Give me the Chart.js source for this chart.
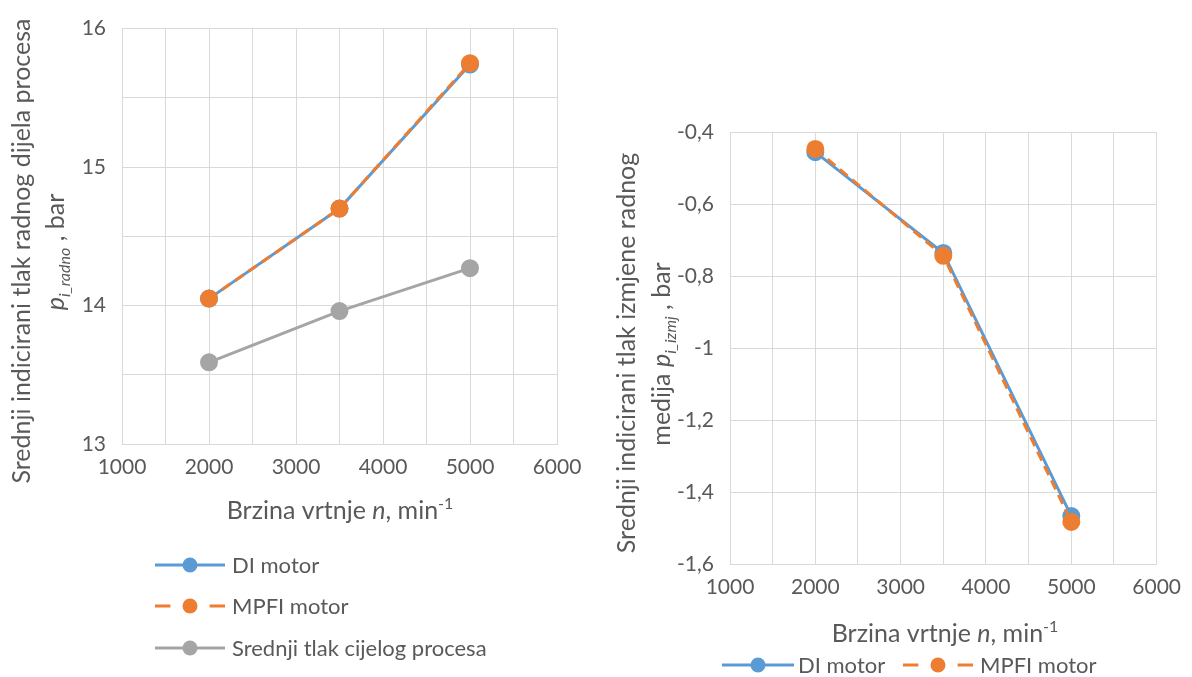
<!DOCTYPE html>
<html>
<head>
<meta charset="utf-8">
<script src="https://cdn.jsdelivr.net/npm/chart.js@4.4.0/dist/chart.umd.min.js"></script>
<style>
body { margin: 0; background: #fff; }
.wrap { position: absolute; top: 0; height: 677px; }
</style>
</head>
<body>
<div class="wrap" style="left:0;width:600px"><canvas id="lijevo"></canvas></div>
<div class="wrap" style="left:600px;width:592px"><canvas id="desno"></canvas></div>
<script>
// brzina vrtnje, min-1
var speeds = [2000, 3500, 5000];
// srednji indicirani tlak radnog dijela procesa, bar
var radnoDI = [14.05, 14.70, 15.74];
var radnoMPFI = [14.05, 14.70, 15.75];
var radnoCijeli = [13.59, 13.96, 14.27];
// srednji indicirani tlak izmjene radnog medija, bar
var izmjDI = [-0.456, -0.736, -1.467];
var izmjMPFI = [-0.447, -0.744, -1.483];

var FONT = 'Lato';
var TXT = '#595959';
var GRID = '#d9d9d9';
var BLUE = '#5B9BD5', ORANGE = '#ED7D31', GREY = '#A5A5A5';

function pts(ys) {
    return speeds.map(function (x, i) { return { x: x, y: ys[i] }; });
}

function ds(label, ys, color, dash, order) {
    return {
        label: label,
        data: pts(ys),
        showLine: true,
        borderColor: color,
        backgroundColor: color,
        pointBackgroundColor: color,
        pointBorderColor: color,
        pointRadius: 7.5,
        borderWidth: 3,
        borderDash: dash || [],
        order: order
    };
}

function fontFor(p, size) {
    var s = (p.sub || p.sup) ? Math.round(size * 0.65) : size;
    return (p.it ? 'italic ' : '') + s + 'px ' + FONT;
}

// draws a line of text made of parts (italic / sub / sup), centred on x,y
function drawRich(ctx, parts, x, y, size, rotate) {
    ctx.save();
    ctx.translate(x, y);
    if (rotate) ctx.rotate(-Math.PI / 2);
    ctx.fillStyle = TXT;
    ctx.textBaseline = 'alphabetic';
    ctx.textAlign = 'left';
    var total = 0;
    parts.forEach(function (p) {
        ctx.font = fontFor(p, size);
        p.w = ctx.measureText(p.t).width;
        total += p.w;
    });
    var cx = -total / 2;
    var base = size * 0.36;
    parts.forEach(function (p) {
        ctx.font = fontFor(p, size);
        var dy = p.sub ? size * 0.25 : (p.sup ? -size * 0.4 : 0);
        ctx.fillText(p.t, cx, base + dy);
        cx += p.w;
    });
    ctx.restore();
}

// legend entry: line (dash only for dashed series, one dash each side), marker, label
function legendItem(ctx, d, x0, x1, y, textX, size) {
    ctx.save();
    ctx.strokeStyle = d.borderColor;
    ctx.lineWidth = 3;
    ctx.beginPath();
    if (d.borderDash && d.borderDash.length) {
        var dl = (x1 - x0) * 0.22;
        ctx.moveTo(x0, y); ctx.lineTo(x0 + dl, y);
        ctx.moveTo(x1 - dl, y); ctx.lineTo(x1, y);
    } else {
        ctx.moveTo(x0, y);
        ctx.lineTo(x1, y);
    }
    ctx.stroke();
    ctx.fillStyle = d.borderColor;
    ctx.beginPath();
    ctx.arc((x0 + x1) / 2, y, 7.5, 0, Math.PI * 2);
    ctx.fill();
    ctx.fillStyle = TXT;
    ctx.font = size + 'px ' + FONT;
    ctx.textBaseline = 'middle';
    ctx.fillText(d.label, textX, y + 1);
    ctx.restore();
}

var xTitle = [{ t: 'Brzina vrtnje ' }, { t: 'n', it: true }, { t: ', min' }, { t: '-1', sup: true }];

function scales(yMin, yMax, yStep, yLabel, yWidth, xHeight) {
    return {
        x: {
            type: 'linear',
            min: 1000, max: 6000,
            grid: { color: GRID, drawTicks: false },
            border: { color: GRID },
            ticks: {
                stepSize: 500, autoSkip: false, maxRotation: 0, padding: 11,
                color: TXT, font: { family: FONT, size: 21 },
                callback: function (v) { return v % 1000 === 0 ? String(v) : ''; }
            },
            afterFit: function (s) { s.height = xHeight; }
        },
        y: {
            min: yMin, max: yMax,
            grid: { color: GRID, drawTicks: false },
            border: { color: GRID },
            ticks: {
                stepSize: yStep, autoSkip: false, padding: 16,
                color: TXT, font: { family: FONT, size: 21 },
                callback: yLabel
            },
            afterFit: function (s) { s.width = yWidth; }
        }
    };
}

new Chart(document.getElementById('lijevo').getContext('2d'), {
    type: 'scatter',
    data: {
        datasets: [
            ds('DI motor', radnoDI, BLUE, null, 1),
            ds('MPFI motor', radnoMPFI, ORANGE, [10, 6], 0),
            ds('Srednji tlak cijelog procesa', radnoCijeli, GREY, null, 2)
        ]
    },
    options: {
        responsive: true,
        maintainAspectRatio: false,
        animation: false,
        layout: { padding: { left: 0, right: 43, top: 18, bottom: 0 } },
        plugins: { legend: { display: false }, tooltip: { enabled: false } },
        scales: scales(13, 16, 0.5, function (v) {
            return Number.isInteger(v) ? String(v) : '';
        }, 122, 233)
    },
    plugins: [{
        id: 'deco',
        afterDraw: function (chart) {
            var ctx = chart.ctx;
            drawRich(ctx, [{ t: 'Srednji indicirani tlak radnog dijela procesa' }], 21, 251, 25, true);
            drawRich(ctx, [{ t: 'p', it: true }, { t: 'i_radno', it: true, sub: true }, { t: ' , bar' }], 55, 252, 25, true);
            drawRich(ctx, xTitle, 340, 510, 25, false);
            var d = chart.data.datasets;
            legendItem(ctx, d[0], 155, 225, 565, 232, 22);
            legendItem(ctx, d[1], 155, 225, 606, 232, 22);
            legendItem(ctx, d[2], 155, 225, 648, 232, 22);
        }
    }]
});

new Chart(document.getElementById('desno').getContext('2d'), {
    type: 'scatter',
    data: {
        datasets: [
            ds('DI motor', izmjDI, BLUE, null, 1),
            ds('MPFI motor', izmjMPFI, ORANGE, [10, 6], 0)
        ]
    },
    options: {
        responsive: true,
        maintainAspectRatio: false,
        animation: false,
        layout: { padding: { left: 0, right: 30, top: 132, bottom: 0 } },
        plugins: { legend: { display: false }, tooltip: { enabled: false } },
        scales: scales(-1.6, -0.4, 0.2, function (v) {
            return String(Number(v.toFixed(1))).replace('.', ',');
        }, 130, 113)
    },
    plugins: [{
        id: 'deco',
        afterDraw: function (chart) {
            var ctx = chart.ctx;
            drawRich(ctx, [{ t: 'Srednji indicirani tlak izmjene radnog' }], 26, 353, 25, true);
            drawRich(ctx, [{ t: 'medija ' }, { t: 'p', it: true }, { t: 'i_izmj', it: true, sub: true }, { t: ' , bar' }], 61, 354, 25, true);
            drawRich(ctx, xTitle, 345, 633, 25, false);
            var d = chart.data.datasets;
            legendItem(ctx, d[0], 122, 194, 665, 198, 22);
            legendItem(ctx, d[1], 303, 373, 665, 380, 22);
        }
    }]
});
</script>
</body>
</html>
